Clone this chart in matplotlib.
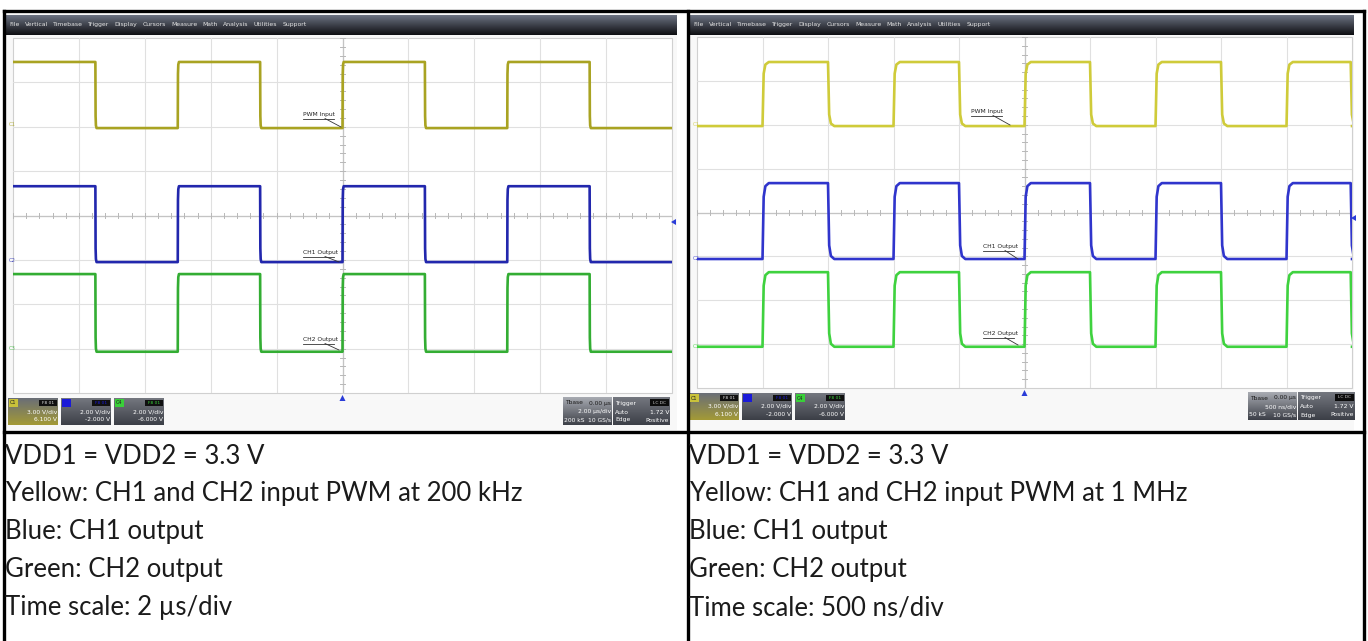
import numpy as np
import matplotlib
matplotlib.use("Agg")
import matplotlib.pyplot as plt
from matplotlib.patches import Rectangle, Polygon

W, H = 1368, 641
DPI = 100

# ---------------- data ----------------
menu_items = ["File", "Vertical", "Timebase", "Trigger", "Display", "Cursors",
              "Measure", "Math", "Analysis", "Utilities", "Support"]

# left capture: 200 kHz, 2 us/div  (levels in divisions)
left_edges_us = [-7.5, -5.0, -2.5, 0.0, 2.5, 5.0, 7.5]
left_start_high = True
left_yellow = (3.46, 1.97)
left_blue = (0.66, -1.05)
left_green = (-1.32, -3.07)
left_status = {"c1": ("3.00 V/div", "6.100 V"), "c2": ("2.00 V/div", "-2.000 V"),
               "c4": ("2.00 V/div", "-6.000 V"),
               "tbase": ("0.00 µs", "2.00 µs/div", "200 kS", "10 GS/s"),
               "trig": ("Auto", "1.72 V", "Edge", "Positive")}

# right capture: 1 MHz, 500 ns/div
right_edges_ns = [-2000, -1500, -1000, -500, 0, 500, 1000, 1500, 2000, 2490]
right_start_high = False
right_yellow = (3.43, 1.97)
right_blue = (0.67, -1.06)
right_green = (-1.36, -3.06)
right_status = {"c1": ("3.00 V/div", "6.100 V"), "c2": ("2.00 V/div", "-2.000 V"),
                "c4": ("2.00 V/div", "-6.000 V"),
                "tbase": ("0.00 µs", "500 ns/div", "50 kS", "10 GS/s"),
                "trig": ("Auto", "1.72 V", "Edge", "Positive")}

left_notes = ["VDD1 = VDD2 = 3.3 V", "Yellow: CH1 and CH2 input PWM at 200 kHz",
              "Blue: CH1 output", "Green: CH2 output", "Time scale: 2 µs/div"]
right_notes = ["VDD1 = VDD2 = 3.3 V", "Yellow: CH1 and CH2 input PWM at 1 MHz",
               "Blue: CH1 output", "Green: CH2 output", "Time scale: 500 ns/div"]

# ---------------- helpers ----------------
fig = plt.figure(figsize=(W / DPI, H / DPI), dpi=DPI)
fig.patch.set_facecolor("white")
renderer = fig.canvas.get_renderer()


def px_axes(x0, y0, x1, y1, z):
    return fig.add_axes([x0 / W, 1 - y1 / H, (x1 - x0) / W, (y1 - y0) / H], zorder=z)


bg = px_axes(0, 0, W, H, 0)
bg.set_xlim(0, W); bg.set_ylim(H, 0); bg.axis("off")
fg = px_axes(0, 0, W, H, 10)
fg.set_xlim(0, W); fg.set_ylim(H, 0); fg.axis("off")
fg.patch.set_alpha(0)


def square(edges, start_high, levels, t0, t1, r):
    hi, lo = levels
    state = start_high
    xs = [t0]; ys = [hi if state else lo]
    for e in edges:
        cur = hi if state else lo
        state = not state
        nxt = hi if state else lo
        d = nxt - cur
        xs += [e, e + r * 0.45, e + r * 1.1, e + r * 2.4]
        ys += [cur, cur + 0.82 * d, cur + 0.96 * d, nxt]
    xs.append(t1); ys.append(hi if state else lo)
    return xs, ys


def gradient(ax, x0, y0, x1, y1, c_top, c_bot, z=1):
    n = 64
    c0 = np.array(matplotlib.colors.to_rgb(c_top))
    c1 = np.array(matplotlib.colors.to_rgb(c_bot))
    t = np.linspace(0, 1, n)[:, None]
    img = (c0 * (1 - t) + c1 * t)[:, None, :]
    ax.imshow(img, extent=(x0, x1, y1, y0), aspect="auto", zorder=z,
              interpolation="bilinear")


def scope(shot, grid, tlim, edges, start_high, traces, colors, r,
          notes_px, status, marker_y, box_x, tb_x):
    sx0, sy0, sx1, sy1 = shot
    gx0, gy0, gx1, gy1 = grid
    bg.add_patch(Rectangle((sx0, sy0), sx1 - sx0, sy1 - sy0, fc="#f8f8f8", ec="none", zorder=0.5))
    bg.add_patch(Rectangle((gx0, gy0), gx1 - gx0, gy1 - gy0, fc="white", ec="#d0d0d0", lw=0.8, zorder=0.6))
    # menu bar
    gradient(bg, sx0, sy0 + 1, sx1, sy0 + 21, "#6c7282", "#0e0f12")
    x = sx0 + 3
    for item in menu_items:
        t = bg.text(x, sy0 + 10.5, item, fontsize=4.4, color="#e4e4e4", va="center",
                    ha="left", family="DejaVu Sans", zorder=2)
        x += t.get_window_extent(renderer).width + 5.2
    # grid axes
    ax = px_axes(gx0, gy0, gx1, gy1, 5)
    ax.patch.set_alpha(0)
    ax.set_xlim(*tlim); ax.set_ylim(-4, 4)
    span = tlim[1] - tlim[0]
    for k in range(1, 10):
        ax.axvline(tlim[0] + span * k / 10, color="#e0e0e0", lw=0.8, zorder=1)
    for k in range(-3, 4):
        ax.axhline(k, color="#e0e0e0", lw=0.8, zorder=1)
    ax.axhline(0, color="#c4c4c4", lw=0.9, zorder=1.5)
    ax.axvline(0, color="#c4c4c4", lw=0.9, zorder=1.5)
    for k in range(-25, 26):
        xv = span / 50 * k
        ax.plot([xv, xv], [-0.06, 0.06], color="#b8b8b8", lw=0.7, zorder=1.6)
    for k in range(-20, 21):
        yv = k / 5
        ax.plot([-span * 0.004, span * 0.004], [yv, yv], color="#b8b8b8", lw=0.7, zorder=1.6)
    for lev, col in zip(traces, colors):
        xs, ys = square(edges, start_high, lev, tlim[0], tlim[1], r)
        ax.plot(xs, ys, color=col, lw=1.9, solid_joinstyle="round", zorder=3)
    for s in ax.spines.values():
        s.set_visible(False)
    ax.set_xticks([]); ax.set_yticks([])

    for (lab, col, y) in zip(["C1", "C2", "C3"], colors, notes_px["tags"]):
        fg.text(gx0 - 4, y, lab, fontsize=3.8, color=col, va="center", ha="left", alpha=0.8)
    for (lab, tx, ty, ex, ey) in notes_px["labels"]:
        fg.text(tx, ty, lab, fontsize=4.3, color="#222222", va="bottom", ha="left")
        fg.plot([tx, tx + 31], [ty + 1.5, ty + 1.5], color="#333333", lw=0.6)
        fg.plot([tx + 22, ex], [ty + 1.5, ey], color="#333333", lw=0.6)
    cx = (gx0 + gx1) / 2
    fg.add_patch(Polygon([[cx - 3, marker_y + 3], [cx + 3, marker_y + 3], [cx, marker_y - 3]],
                         closed=True, fc="#2a3cd8", ec="none"))
    ry = notes_px["rmark"]
    fg.add_patch(Polygon([[gx1 + 4, ry - 3], [gx1 + 4, ry + 3], [gx1 - 1, ry]],
                         closed=True, fc="#2a3cd8", ec="none"))

    by0, by1 = marker_y, marker_y + 27
    specs = [("C1", "#c9c23a", "c1"), ("", "#1a1ad8", "c2"), ("C4", "#39d039", "c4")]
    for i, (lab, col, key) in enumerate(specs):
        x0 = box_x + i * 53
        x1 = x0 + 50
        if key == "c1":
            gradient(fg, x0, by0, x1, by1, "#6a6e77", "#a39a36", z=2)
        else:
            gradient(fg, x0, by0, x1, by1, "#74777f", "#3c3f47", z=2)
        fg.add_patch(Rectangle((x0 + 1, by0 + 1), 9, 8, fc=col, ec="none", zorder=3))
        fg.text(x0 + 2, by0 + 5, lab, fontsize=3.6, color="#202020", va="center", zorder=4)
        fg.add_patch(Rectangle((x1 - 19, by0 + 2), 18, 6, fc="#101010", ec="none", zorder=3))
        fg.text(x1 - 10, by0 + 5, "F8 01", fontsize=3.2, color=col if key != "c1" else "#dddddd",
                va="center", ha="center", zorder=4)
        a, b = status[key]
        fg.text(x1 - 1, by0 + 13.5, a, fontsize=4.3, color="white", ha="right", va="center", zorder=4)
        fg.text(x1 - 1, by0 + 21.5, b, fontsize=4.3, color="white", ha="right", va="center", zorder=4)
    tx0, tx1 = tb_x, tb_x + 49
    gradient(fg, tx0, by0 - 1, tx1, by1, "#a8abb2", "#3d4048", z=2)
    gradient(fg, tx1 + 1, by0 - 1, tx1 + 58, by1, "#74777f", "#3c3f47", z=2)
    t0s, t1s, t2s, t3s = status["tbase"]
    fg.text(tx0 + 2, by0 + 5, "Tbase", fontsize=4.3, color="#1a1a1a", va="center", zorder=4)
    fg.text(tx1 - 1, by0 + 5, t0s, fontsize=4.3, color="#1a1a1a", ha="right", va="center", zorder=4)
    fg.text(tx1 - 1, by0 + 14, t1s, fontsize=4.3, color="white", ha="right", va="center", zorder=4)
    fg.text(tx0 + 1, by0 + 22, t2s, fontsize=4.3, color="white", ha="left", va="center", zorder=4)
    fg.text(tx1 - 1, by0 + 22, t3s, fontsize=4.3, color="white", ha="right", va="center", zorder=4)
    g0 = tx1 + 1; g1 = tx1 + 58
    a, b, c, d = status["trig"]
    fg.text(g0 + 2, by0 + 5, "Trigger", fontsize=4.3, color="white", va="center", zorder=4)
    fg.add_patch(Rectangle((g1 - 20, by0 + 1), 19, 7, fc="#0c0c0c", ec="none", zorder=3))
    fg.text(g1 - 10.5, by0 + 4.5, "LC DC", fontsize=3.2, color="#cccccc", ha="center", va="center", zorder=4)
    fg.text(g0 + 2, by0 + 14, a, fontsize=4.3, color="white", va="center", zorder=4)
    fg.text(g1 - 1, by0 + 14, b, fontsize=4.3, color="white", ha="right", va="center", zorder=4)
    fg.text(g0 + 2, by0 + 22, c, fontsize=4.3, color="white", va="center", zorder=4)
    fg.text(g1 - 1, by0 + 22, d, fontsize=4.3, color="white", ha="right", va="center", zorder=4)


scope(shot=(6, 14, 677, 430), grid=(13, 38, 672, 393), tlim=(-10, 10),
      edges=left_edges_us, start_high=left_start_high,
      traces=[left_yellow, left_blue, left_green],
      colors=["#a9a322", "#2227ad", "#33ad33"], r=0.015,
      notes_px={"tags": [124, 261, 349],
                "labels": [("PWM Input", 303, 117, 341, 127),
                           ("CH1 Output", 303, 255, 339, 262),
                           ("CH2 Output", 303, 342, 339, 350)],
                "rmark": 222},
      status=left_status, marker_y=398, box_x=8, tb_x=563)

scope(shot=(690, 14, 1354, 430), grid=(697, 37, 1352, 388), tlim=(-2500, 2500),
      edges=right_edges_ns, start_high=right_start_high,
      traces=[right_yellow, right_blue, right_green],
      colors=["#cfcb3a", "#3035cc", "#3fd23f"], r=20,
      notes_px={"tags": [124, 259, 347],
                "labels": [("PWM Input", 971, 114, 1010, 125),
                           ("CH1 Output", 983, 249, 1018, 259),
                           ("CH2 Output", 983, 336, 1018, 345)],
                "rmark": 218},
      status=right_status, marker_y=393, box_x=689, tb_x=1248)

# ---------------- table text ----------------
line_y = [456, 494, 532, 570, 608]
for y, s in zip(line_y, left_notes):
    fg.text(5, y, s, fontsize=18.5, color="#1b1b1b", va="center", ha="left", family="Lato")
for y, s in zip(line_y, right_notes):
    fg.text(689, y, s, fontsize=18.5, color="#1b1b1b", va="center", ha="left", family="Lato")

# ---------------- table borders ----------------
bw = 2.4
fg.plot([4, 1364], [11, 11], color="black", lw=bw, solid_capstyle="projecting")
fg.plot([4, 1364], [432, 432], color="black", lw=bw, solid_capstyle="projecting")
for xv in (4, 688, 1364):
    fg.plot([xv, xv], [11, H + 5], color="black", lw=bw, solid_capstyle="projecting")

fig.savefig("out.png", dpi=DPI, facecolor="white")
